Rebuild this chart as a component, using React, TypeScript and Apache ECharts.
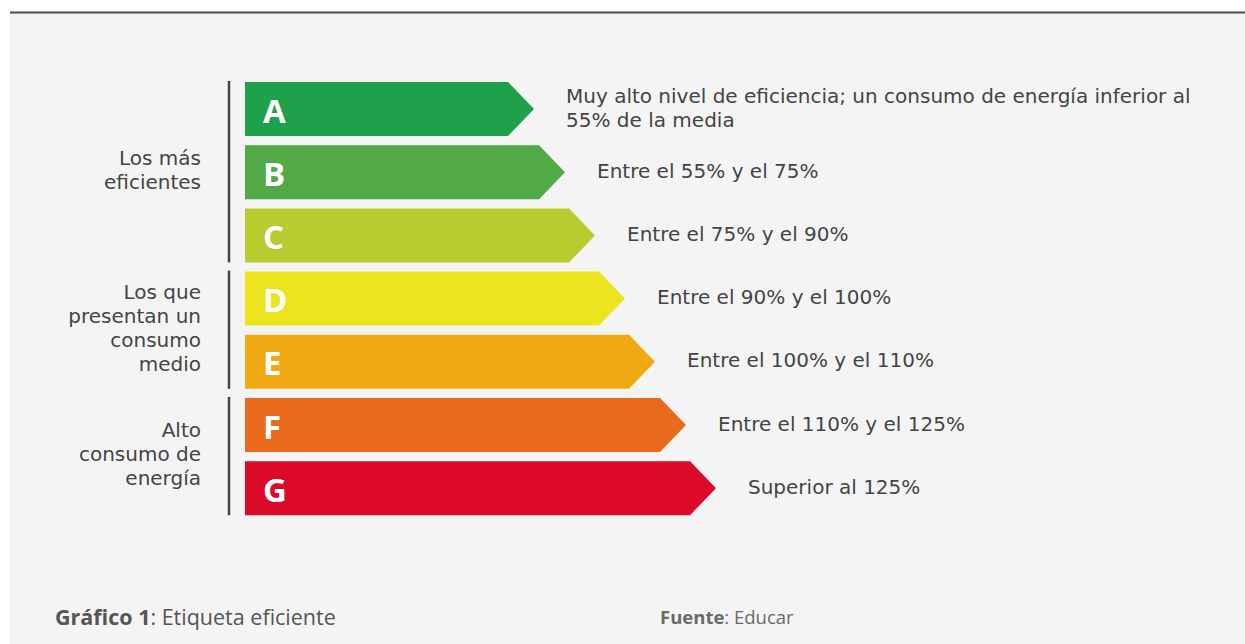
import React, { useEffect, useRef } from "react";
import * as echarts from "echarts";

const classes = ["A", "B", "C", "D", "E", "F", "G"];
const barLengths = [289, 320, 350, 380, 410, 441, 471];
const descriptions = [
  "Muy alto nivel de eficiencia; un consumo de energía inferior al\n55% de la media",
  "Entre el 55% y el 75%",
  "Entre el 75% y el 90%",
  "Entre el 90% y el 100%",
  "Entre el 100% y el 110%",
  "Entre el 110% y el 125%",
  "Superior al 125%",
];
const colors = ["#1fa04b", "#52aa46", "#b8cb2f", "#ede420", "#f0ab13", "#e86a1d", "#da0a28"];
const groupLabels = ["Los más\neficientes", "Los que\npresentan un\nconsumo\nmedio", "Alto\nconsumo de\nenergía"];
const groupStart = [0, 3, 5];
const groupEnd = [2, 4, 6];

export default function App() {
  const ref = useRef<HTMLDivElement>(null);
  useEffect(() => {
    document.body.style.margin = "0";
    const chart = echarts.init(ref.current!, null, { renderer: "svg" });
    const textColor = "#444444";
    chart.setOption({
      animation: false,
      backgroundColor: "#ffffff",
      grid: { left: 245, width: 1000, top: 77.4, height: 442.4 },
      xAxis: { type: "value", min: 0, max: 1000, show: false },
      yAxis: { type: "category", data: classes, inverse: true, show: false },
      graphic: [
        { type: "rect", z: -10, silent: true, shape: { x: 10, y: 13, width: 1235, height: 631 }, style: { fill: "#f4f4f4" } },
        { type: "line", z: -9, silent: true, shape: { x1: 10, y1: 12.5, x2: 1245, y2: 12.5 }, style: { stroke: "#4a4a4a", lineWidth: 2 } },
        {
          type: "text",
          left: 55,
          top: 605,
          style: {
            text: "{b|Gráfico 1}: Etiqueta eficiente",
            fontFamily: "Open Sans",
            fontSize: 21.5,
            fill: "#555555",
            rich: { b: { fontWeight: "bold", fontFamily: "Open Sans", fontSize: 21.5, fill: "#555555" } },
          },
        },
        {
          type: "text",
          left: 660,
          top: 607,
          style: {
            text: "{b|Fuente}: Educar",
            fontFamily: "Open Sans",
            fontSize: 18.5,
            fill: "#6a6a6a",
            rich: { b: { fontWeight: "bold", fontFamily: "Open Sans", fontSize: 18.5, fill: "#6a6a6a" } },
          },
        },
      ],
      series: [
        {
          type: "custom",
          encode: { x: 0, y: 1 },
          data: barLengths.map((v, i) => [v, i]),
          renderItem: (params: any, api: any) => {
            const val = api.value(0);
            const idx = api.value(1);
            const left = api.coord([0, idx]);
            const tip = api.coord([val, idx]);
            const band = api.size([0, 1])[1];
            const h = band * 0.855;
            const d = h * 0.48;
            const cy = tip[1];
            return {
              type: "group",
              children: [
                {
                  type: "polygon",
                  shape: {
                    points: [
                      [left[0], cy - h / 2],
                      [tip[0] - d, cy - h / 2],
                      [tip[0], cy],
                      [tip[0] - d, cy + h / 2],
                      [left[0], cy + h / 2],
                    ],
                  },
                  style: { fill: colors[idx] },
                },
                {
                  type: "text",
                  style: {
                    text: classes[idx],
                    x: left[0] + 18,
                    y: cy + 1,
                    verticalAlign: "middle",
                    fill: "#ffffff",
                    fontFamily: "Open Sans",
                    fontWeight: "bold",
                    fontSize: 33,
                  },
                },
                {
                  type: "text",
                  style: {
                    text: descriptions[idx],
                    x: tip[0] + 32,
                    y: cy - 1.5,
                    verticalAlign: "middle",
                    fill: textColor,
                    fontFamily: "DejaVu Sans",
                    fontSize: 20,
                    lineHeight: 24,
                  },
                },
              ],
            };
          },
        },
        {
          type: "custom",
          encode: { x: 0, y: 1 },
          data: groupStart.map((s, i) => [0, s, groupEnd[i]]),
          renderItem: (params: any, api: any) => {
            const s = api.value(1);
            const e = api.value(2);
            const gi = params.dataIndex;
            const top = api.coord([0, s]);
            const bot = api.coord([0, e]);
            const band = api.size([0, 1])[1];
            const h = band * 0.855;
            const x = top[0] - 16;
            const y1 = top[1] - h / 2 - 1;
            const y2 = bot[1] + h / 2;
            return {
              type: "group",
              children: [
                { type: "line", shape: { x1: x, y1, x2: x, y2 }, style: { stroke: "#444444", lineWidth: 2.5 } },
                {
                  type: "text",
                  style: {
                    text: groupLabels[gi],
                    x: top[0] - 44,
                    y: (y1 + y2) / 2 - 2,
                    align: "right",
                    verticalAlign: "middle",
                    fill: textColor,
                    fontFamily: "DejaVu Sans",
                    fontSize: 20,
                    lineHeight: 24,
                  },
                },
              ],
            };
          },
        },
      ],
    });
    return () => chart.dispose();
  }, []);
  return <div ref={ref} style={{ width: 1245, height: 644 }} />;
}
